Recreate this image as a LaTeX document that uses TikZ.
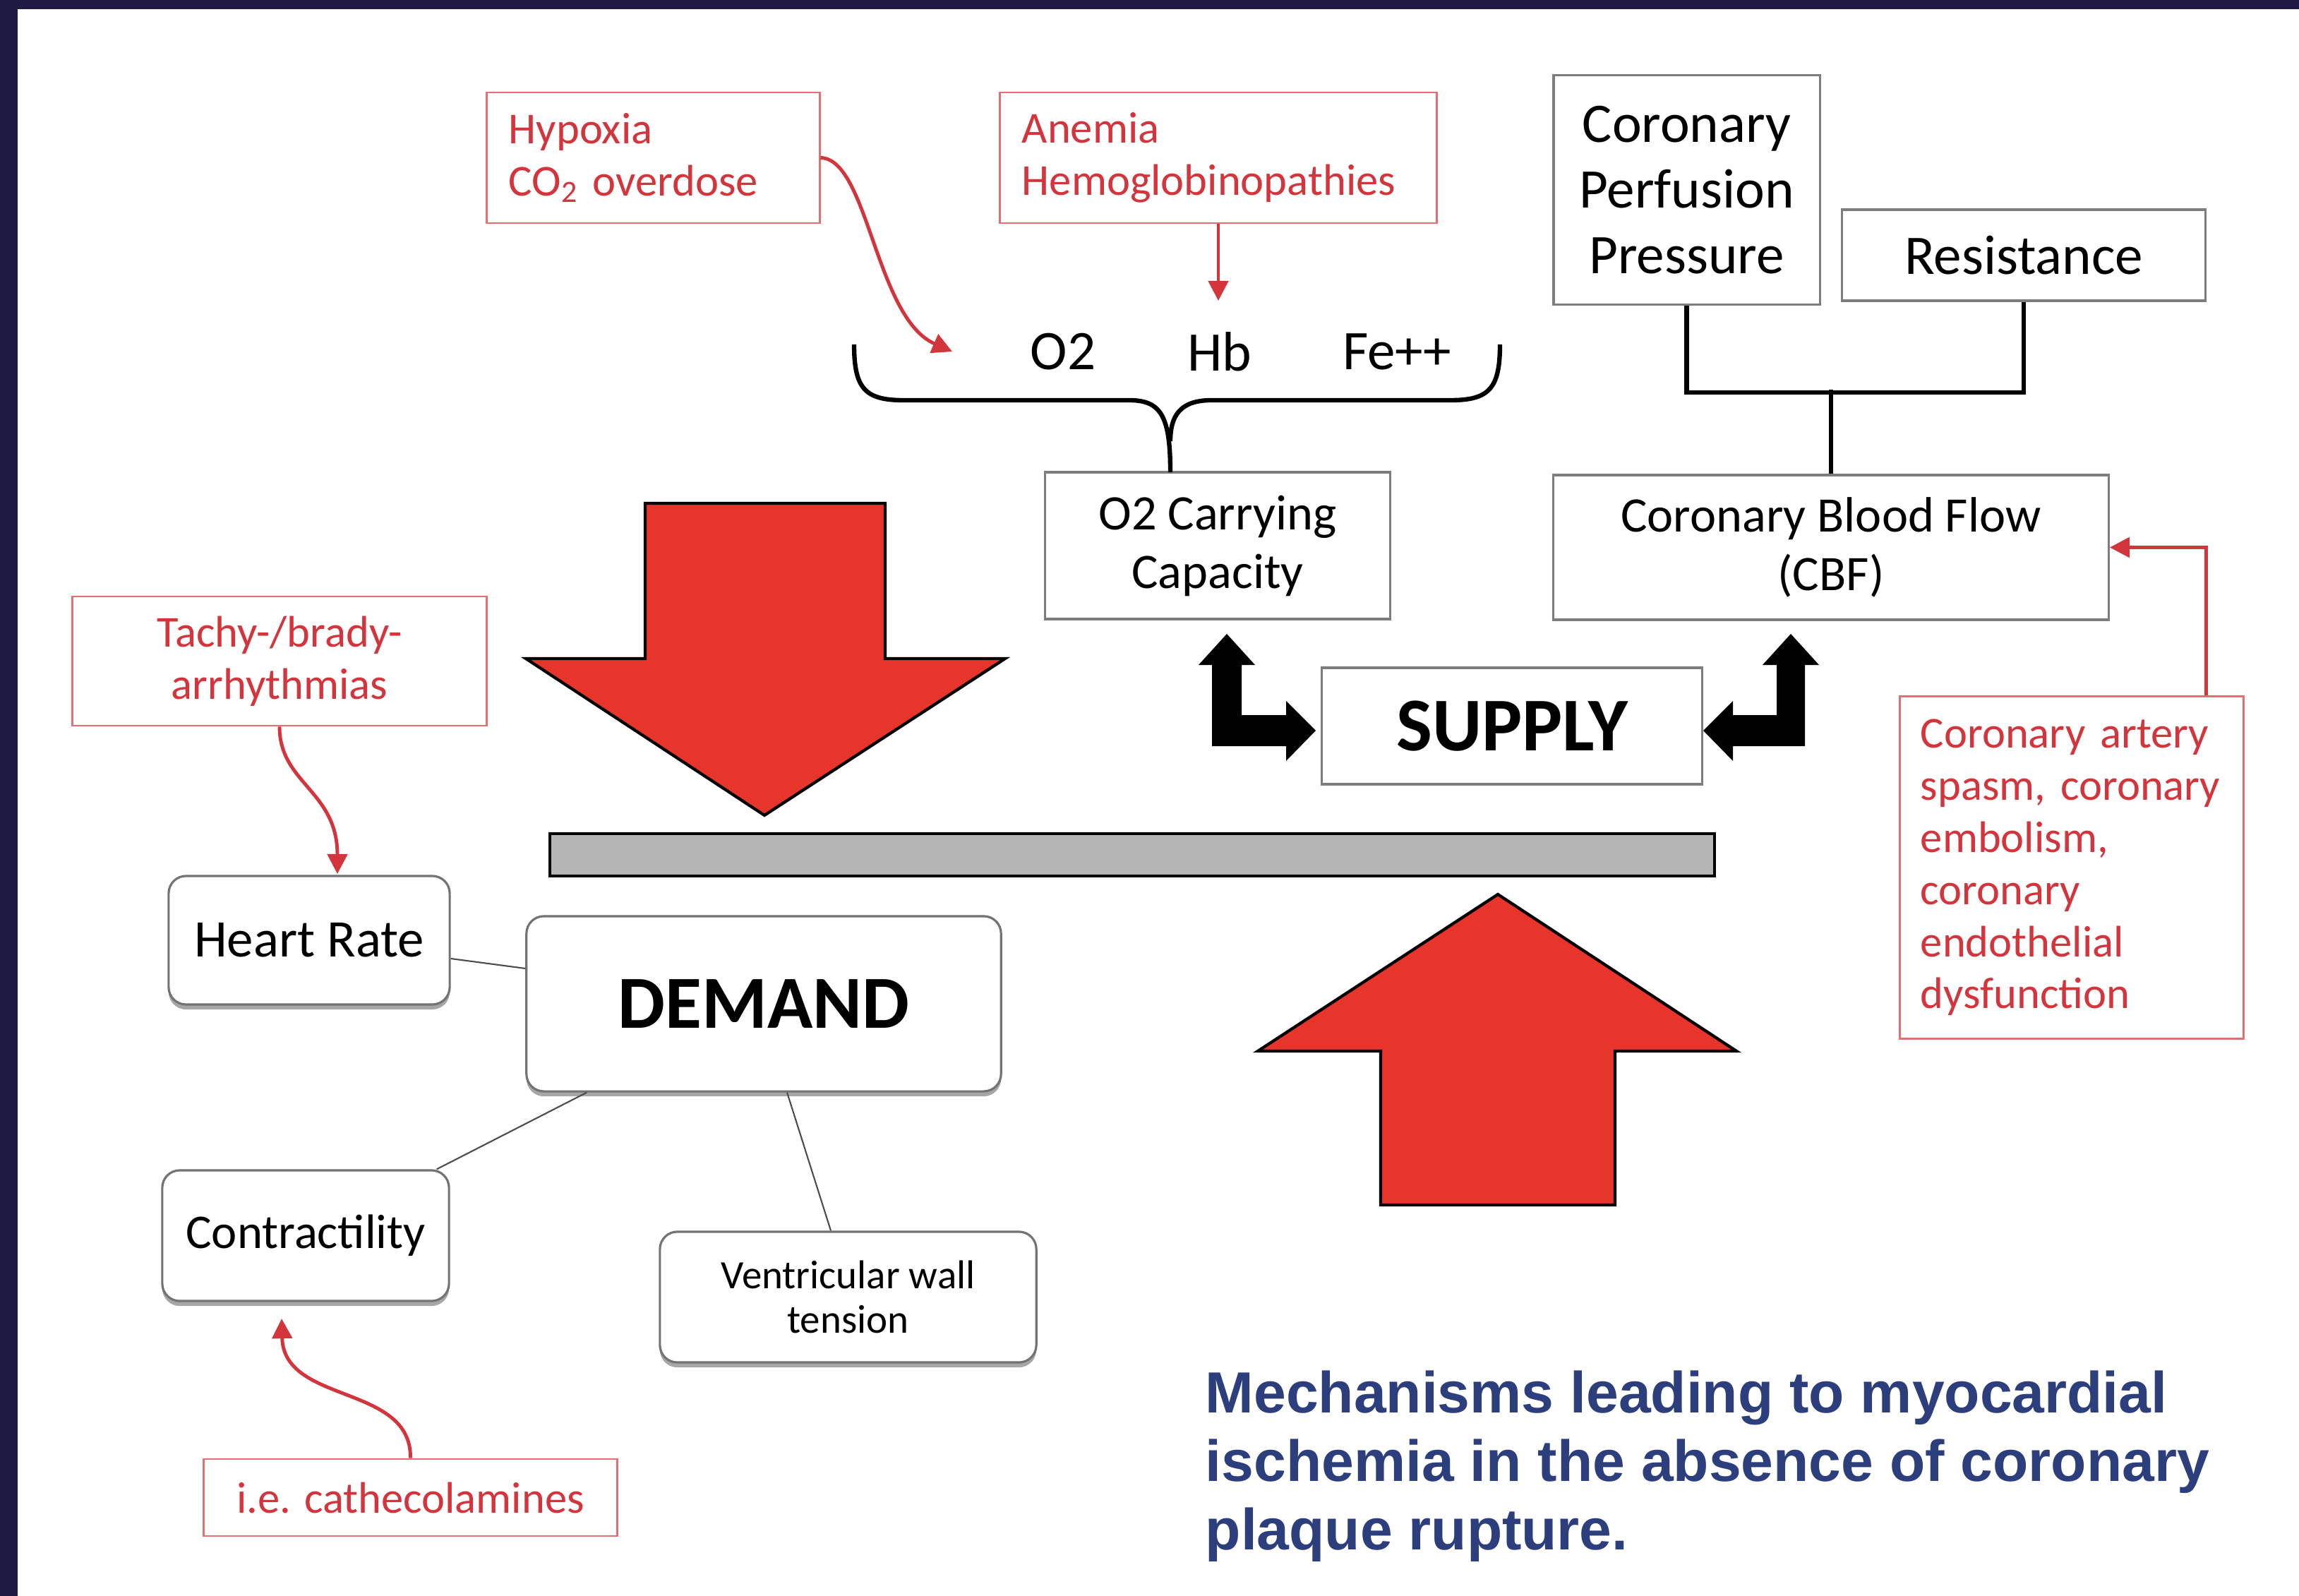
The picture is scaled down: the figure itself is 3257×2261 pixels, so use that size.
\documentclass[tikz,border=0pt]{standalone}
\usepackage{fontspec}
\setmainfont{Carlito}
\newfontfamily\capfont{Liberation Sans}
\usetikzlibrary{arrows.meta,shadows}
\definecolor{framecol}{RGB}{30,26,66}
\definecolor{redtxt}{RGB}{212,52,60}
\definecolor{redline}{RGB}{226,112,112}
\definecolor{bigred}{RGB}{232,53,43}
\definecolor{bargray}{RGB}{180,180,180}
\definecolor{boxgray}{RGB}{125,125,125}
\definecolor{capblue}{RGB}{45,62,125}
\begin{document}
\begin{tikzpicture}[x=0.01cm,y=-0.01cm,
  redbox/.style={draw=redline,line width=0.8pt,fill=white,text=redtxt,inner sep=0pt,font=\fontsize{17.8pt}{21pt}\selectfont},
  sqbox/.style={draw=boxgray,line width=0.9pt,fill=white,inner sep=0pt,align=center},
  rbox/.style={draw=black!55,line width=0.9pt,fill=white,rounded corners=7pt,inner sep=0pt,align=center,
    drop shadow={shadow xshift=0pt,shadow yshift=-2pt,opacity=0.35,fill=black}},
  redarrow/.style={draw=redtxt,line width=1.4pt,-{Triangle[length=8pt,width=8pt]}},
  bigarrow/.style={fill=bigred,draw=black,line width=1.2pt,line join=miter},
  blackarrow/.style={fill=black,draw=none},
  thinline/.style={draw=black!70,line width=0.6pt},
  thickline/.style={draw=black,line width=1.8pt},
  bracestyle/.style={draw=black,line width=1.8pt},
  lbl/.style={inner sep=0pt,font=\fontsize{22.5pt}{26.5pt}\selectfont}
]
\useasboundingbox (0,0) rectangle (3257,2261);
\fill[framecol] (0,0) rectangle (3257,2261);
\fill[white] (25,13) rectangle (3257,2261);

% red cause boxes
\node[redbox,minimum width=4.71cm,minimum height=1.85cm,text width=4.09cm,align=left] (hyp) at (925.5,223.5) {Hypoxia\\CO\textsubscript{2} overdose};
\node[redbox,minimum width=6.18cm,minimum height=1.85cm,text width=5.56cm,align=left] (anem) at (1726,223.5) {Anemia\\Hemoglobinopathies};
\node[redbox,minimum width=4.86cm,minimum height=4.84cm,text width=4.28cm,align=left] (cas) at (2935,1229) {Coronary artery\\spasm, coronary\\embolism,\\coronary\\endothelial\\dysfunction};
\node[redbox,minimum width=5.86cm,minimum height=1.83cm,align=center] (tachy) at (396,936.5) {Tachy-/brady-\\arrhythmias};
\node[redbox,minimum width=5.85cm,minimum height=1.09cm,align=center] (cat) at (581.5,2121.5) {i.e. cathecolamines};

% supply side boxes
\node[sqbox,minimum width=3.77cm,minimum height=3.24cm,font=\fontsize{22.5pt}{26.5pt}\selectfont] (cpp) at (2389.5,269) {Coronary\\Perfusion\\Pressure};
\node[sqbox,minimum width=5.14cm,minimum height=1.29cm,font=\fontsize{22.5pt}{26.5pt}\selectfont] (res) at (2867,361.5) {Resistance};
\node[sqbox,minimum width=4.88cm,minimum height=2.08cm,font=\fontsize{20pt}{23.6pt}\selectfont] (o2cap) at (1725,773) {O2 Carrying\\Capacity};
\node[sqbox,minimum width=7.86cm,minimum height=2.05cm,font=\fontsize{20pt}{23.6pt}\selectfont] (cbf) at (2594,775.5) {Coronary Blood Flow\\(CBF)};
\node[sqbox,minimum width=5.38cm,minimum height=1.65cm,font=\bfseries\fontsize{30.6pt}{34pt}\selectfont] (supply) at (2142,1028.5) {SUPPLY};

% O2 Hb Fe++
\node[lbl] (o2) at (1506,498) {O2};
\node[lbl] (hb) at (1728,498) {Hb};
\node[lbl] (fe) at (1979,498) {Fe++};

% demand side boxes
\node[rbox,minimum width=3.98cm,minimum height=1.82cm,font=\fontsize{21.3pt}{25pt}\selectfont] (hr) at (438,1332) {Heart Rate};
\node[rbox,minimum width=6.72cm,minimum height=2.48cm,font=\bfseries\fontsize{30.2pt}{34pt}\selectfont] (demand) at (1082,1422) {DEMAND};
\node[rbox,minimum width=4.06cm,minimum height=1.85cm,font=\fontsize{19.5pt}{23pt}\selectfont] (contr) at (433,1750.5) {Contractility};
\node[rbox,minimum width=5.33cm,minimum height=1.85cm,font=\fontsize{16.2pt}{17.7pt}\selectfont] (vwt) at (1201.5,1837.5) {Ventricular wall\\tension};

% brace
\draw[bracestyle] (1210,488) .. controls (1210,550) and (1225,567) .. (1280,567) -- (1600,567) .. controls (1645,567) and (1658,590) .. (1658,669);
\draw[bracestyle] (2125,488) .. controls (2125,550) and (2110,567) .. (2055,567) -- (1716,567) .. controls (1671,567) and (1658,590) .. (1658,625);

% bracket CPP / Resistance -> CBF
\draw[thickline] (cpp.south) -- ++(0,123) -| (res.south);
\draw[thickline] (cbf.north) -- ++(0,-119);

% red connectors
\coordinate (o2tip) at (1349,498);
\coordinate (hbtip) at (1726,426);
\coordinate (hrtip) at (478,1238);
\coordinate (ctip) at (399,1868);
\draw[redarrow] (hyp.east) .. controls (1230,225) and (1240,450) .. (o2tip);
\draw[redarrow] (anem.south) -- (hbtip);
\draw[redarrow] (tachy.south) .. controls (396,1110) and (478,1120) .. (hrtip);
\draw[redarrow] (cat.north) .. controls (583,1960) and (402,1990) .. (ctip);
\draw[redarrow] ([xshift=1.9cm]cas.north) |- (cbf.east);

% demand connectors
\draw[thinline] ([yshift=-0.26cm]hr.east) -- ([yshift=0.5cm]demand.west);
\draw[thinline] ([xshift=-0.19cm]contr.north east) -- ([xshift=0.87cm]demand.south west);
\draw[thinline] ([xshift=0.33cm]demand.south) -- ([xshift=-0.245cm]vwt.north);

% black L arrows
\fill[blackarrow] (1738,898) -- (1778,942) -- (1759,942) -- (1759,1013) -- (1822,1013) -- (1822,993) -- (1864,1035) -- (1822,1078) -- (1822,1057) -- (1717,1057) -- (1717,942) -- (1698,942) -- cycle;
\fill[blackarrow] (2537,898) -- (2577,942) -- (2557,942) -- (2557,1057) -- (2455,1057) -- (2455,1078) -- (2413,1035) -- (2455,993) -- (2455,1013) -- (2517,1013) -- (2517,942) -- (2497,942) -- cycle;

% big red arrows and bar
\draw[bigarrow] (914,713) -- (1254,713) -- (1254,933) -- (1424,933) -- (1083,1155) -- (745,933) -- (914,933) -- cycle;
\draw[bigarrow] (2122,1267) -- (2460,1489) -- (2288,1489) -- (2288,1707) -- (1956,1707) -- (1956,1489) -- (1782,1489) -- cycle;
\draw[fill=bargray,draw=black,line width=1.4pt] (779,1181) rectangle (2429,1241);

% caption
\node[anchor=west,inner sep=0pt,align=left,text=capblue,font=\capfont\bfseries\fontsize{23.4pt}{27.6pt}\selectfont] (caption) at (1707,2077) {Mechanisms leading to myocardial\\ischemia in the absence of coronary\\plaque rupture.};
\end{tikzpicture}
\end{document}
